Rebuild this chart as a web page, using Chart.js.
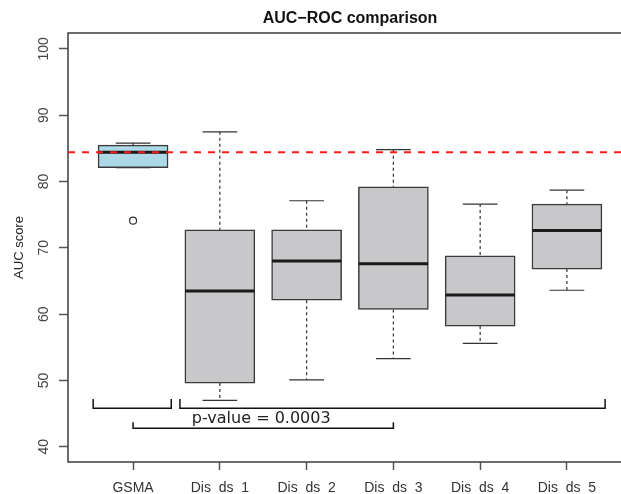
<!DOCTYPE html>
<html>
<head>
<meta charset="utf-8">
<script src="https://cdn.jsdelivr.net/npm/chart.js@4/dist/chart.umd.min.js"></script>
<style>
  html, body { margin: 0; padding: 0; background: #fff; overflow: hidden; }
  #wrap { width: 640px; height: 494px; }
</style>
</head>
<body>
<div id="wrap"><canvas id="grafico" width="640" height="494"></canvas></div>
<script>
// categorias e estatísticas das caixas
const categorias = ['GSMA', 'Dis  ds  1', 'Dis  ds  2', 'Dis  ds  3', 'Dis  ds  4', 'Dis  ds  5']
const bigodeInferior = [82.1, 47.0, 50.1, 53.3, 55.6, 63.6]
const caixaInferior = [82.1, 49.6, 62.1, 60.7, 58.2, 66.8]
const medianas = [84.4, 63.5, 68.0, 67.6, 62.9, 72.6]
const caixaSuperior = [85.5, 72.7, 72.7, 79.2, 68.8, 76.6]
const bigodeSuperior = [85.8, 87.5, 77.1, 84.8, 76.6, 78.7]
const outlierCategoria = [0]
const outlierValor = [74.1]
const referencia = 84.4
const ticksY = [40, 50, 60, 70, 80, 90, 100]

// anotação de comparação entre grupos
const grupoA = [0]
const grupoB = [1, 2, 3, 4, 5]
const nivelChave = 45.8
const pontaChave = 47.2
const nivelLigacao = 42.8
const pontaLigacao = 43.7
const nivelTexto = 43.6
const textoP = 'p-value = 0.0003'

const xMin = 0.25
const xMax = 6.75
const meiaCaixa = 0.4
const meioBigode = 0.2

const pos = i => i + 1
const gap = { x: NaN, y: null }

const coresCaixa = categorias.map((_, i) => (i === 0 ? '#add8e6' : '#c8c8ca'))

const tracosBigode = []
const capsBigode = []
const linhasMediana = []
categorias.forEach((_, i) => {
  tracosBigode.push({ x: pos(i), y: bigodeSuperior[i] }, { x: pos(i), y: caixaSuperior[i] }, gap)
  tracosBigode.push({ x: pos(i), y: caixaInferior[i] }, { x: pos(i), y: bigodeInferior[i] }, gap)
  capsBigode.push({ x: pos(i) - meioBigode, y: bigodeSuperior[i] }, { x: pos(i) + meioBigode, y: bigodeSuperior[i] }, gap)
  capsBigode.push({ x: pos(i) - meioBigode, y: bigodeInferior[i] }, { x: pos(i) + meioBigode, y: bigodeInferior[i] }, gap)
  linhasMediana.push({ x: pos(i) - meiaCaixa, y: medianas[i] }, { x: pos(i) + meiaCaixa, y: medianas[i] }, gap)
})

function chave(grupo) {
  const a = pos(grupo[0]) - 0.46
  const b = pos(grupo[grupo.length - 1]) + 0.44
  return [{ x: a, y: pontaChave }, { x: a, y: nivelChave }, { x: b, y: nivelChave }, { x: b, y: pontaChave }, gap]
}
const centroA = grupoA.reduce((s, i) => s + pos(i), 0) / grupoA.length
const centroB = grupoB.reduce((s, i) => s + pos(i), 0) / grupoB.length
const chaves = [
  ...chave(grupoA),
  ...chave(grupoB),
  { x: centroA, y: pontaLigacao }, { x: centroA, y: nivelLigacao },
  { x: centroB, y: nivelLigacao }, { x: centroB, y: pontaLigacao }
]

const linhaBase = { type: 'line', pointRadius: 0, fill: false, spanGaps: false, tension: 0 }

// moldura, título e texto do p-valor
const pluginExtras = {
  id: 'extras',
  beforeDatasetsDraw(chart) {
    const { ctx, chartArea: a } = chart
    ctx.save()
    ctx.strokeStyle = '#3c3c3c'
    ctx.lineWidth = 1.5
    ctx.strokeRect(a.left, a.top, a.right - a.left, a.bottom - a.top)
    ctx.restore()
  },
  afterDatasetsDraw(chart) {
    const { ctx, chartArea: a, scales } = chart
    ctx.save()
    ctx.fillStyle = '#111'
    ctx.font = 'bold 16px "Liberation Sans", Arial, sans-serif'
    ctx.textAlign = 'center'
    ctx.textBaseline = 'middle'
    ctx.fillText('AUC\u2212ROC comparison', (a.left + a.right) / 2, 19)
    ctx.font = '16px "DejaVu Sans", sans-serif'
    ctx.fillStyle = '#222'
    ctx.textBaseline = 'alphabetic'
    const xt = scales.x.getPixelForValue((centroA + centroB) / 2)
    ctx.fillText(textoP, xt - 2, scales.y.getPixelForValue(nivelTexto))
    ctx.restore()
  }
}

new Chart(document.getElementById('grafico'), {
  type: 'bar',
  data: {
    datasets: [
      {
        ...linhaBase,
        data: [{ x: xMin, y: referencia }, { x: xMax, y: referencia }],
        borderColor: '#ff1a1a',
        borderWidth: 2,
        borderDash: [7, 7],
        order: 0
      },
      {
        ...linhaBase,
        data: linhasMediana,
        borderColor: '#1a1a1a',
        borderWidth: 3,
        order: 1
      },
      {
        ...linhaBase,
        data: outlierCategoria.map((c, k) => ({ x: pos(c), y: outlierValor[k] })),
        showLine: false,
        pointRadius: 3.5,
        pointStyle: 'circle',
        pointBackgroundColor: 'rgba(0,0,0,0)',
        pointBorderColor: '#333',
        pointBorderWidth: 1.2,
        order: 1
      },
      {
        type: 'bar',
        data: categorias.map((_, i) => ({ x: pos(i), y: [caixaInferior[i], caixaSuperior[i]] })),
        backgroundColor: coresCaixa,
        borderColor: '#3a3a3a',
        borderWidth: 1.5,
        borderSkipped: false,
        barThickness: 70,
        order: 2
      },
      {
        ...linhaBase,
        data: tracosBigode,
        borderColor: '#333',
        borderWidth: 1.2,
        borderDash: [3, 3],
        order: 3
      },
      {
        ...linhaBase,
        data: capsBigode,
        borderColor: '#333',
        borderWidth: 1.2,
        order: 3
      },
      {
        ...linhaBase,
        data: chaves,
        borderColor: '#111',
        borderWidth: 1.5,
        order: 3
      }
    ]
  },
  options: {
    responsive: false,
    animation: false,
    layout: { padding: { top: 33, right: 8, left: 0, bottom: 0 } },
    scales: {
      x: {
        type: 'linear',
        min: xMin,
        max: xMax,
        offset: false,
        afterBuildTicks: s => { s.ticks = categorias.map((_, i) => ({ value: pos(i) })) },
        afterFit: s => { s.height = 32 },
        border: { display: false },
        grid: { offset: false, drawOnChartArea: false, drawTicks: true, tickLength: 8, color: '#555', tickWidth: 1.5 },
        ticks: {
          autoSkip: false,
          maxRotation: 0,
          padding: 10,
          color: '#333',
          font: { family: '"Liberation Sans", Arial, sans-serif', size: 14 },
          callback: v => categorias[v - 1] ?? ''
        }
      },
      y: {
        min: 37.7,
        max: 102.4,
        afterBuildTicks: s => { s.ticks = ticksY.map(v => ({ value: v })) },
        afterFit: s => { s.width = 68 },
        border: { display: false },
        grid: { drawOnChartArea: false, drawTicks: true, tickLength: 9, color: '#555', tickWidth: 1.5 },
        ticks: {
          minRotation: 90,
          maxRotation: 90,
          crossAlign: 'center',
          padding: 3,
          color: '#444',
          font: { family: '"Liberation Sans", Arial, sans-serif', size: 14 }
        },
        title: {
          display: true,
          text: 'AUC score',
          color: '#222',
          padding: { top: 12, bottom: 0 },
          font: { family: '"Liberation Sans", Arial, sans-serif', size: 13 }
        }
      }
    },
    plugins: {
      legend: { display: false },
      tooltip: { enabled: false },
      title: { display: false }
    }
  },
  plugins: [pluginExtras]
})
</script>
</body>
</html>
